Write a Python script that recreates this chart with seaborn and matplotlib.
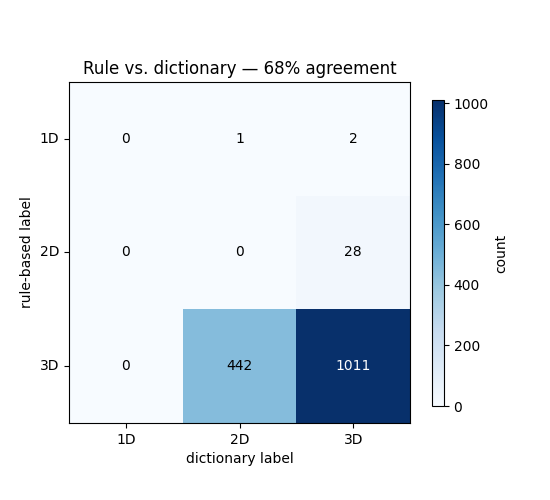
import numpy as np
import pandas as pd
import matplotlib
matplotlib.use("Agg")
import matplotlib.pyplot as plt
import seaborn as sns

# Data
labels = ['1D', '2D', '3D']
row_1d = [0, 1, 2]
row_2d = [0, 0, 28]
row_3d = [0, 442, 1011]

counts = pd.DataFrame([row_1d, row_2d, row_3d], index=labels, columns=labels)
agreement = 68

fig = plt.figure(figsize=(5.5, 5), dpi=100)
ax = fig.add_axes([0.1255, 0.154, 0.62, 0.682])
cax = fig.add_axes([0.785, 0.188, 0.022, 0.612])

sns.heatmap(counts, ax=ax, cbar_ax=cax, cmap='Blues', vmin=0, vmax=counts.values.max(),
            annot=True, fmt='d', annot_kws={'fontsize': 10}, square=False)

# plain black / white annotation text
for t in ax.texts:
    if t.get_color() != 'w':
        t.set_color('black')

for s in ax.spines.values():
    s.set_visible(True)
    s.set_color('black')
    s.set_linewidth(0.8)
ax.tick_params(length=3.5, width=0.8)
ax.set_yticklabels(labels, rotation=0)
ax.set_xticklabels(labels, rotation=0)
ax.set_title(f'Rule vs. dictionary \u2014 {agreement}% agreement', fontsize=12)
ax.set_xlabel('dictionary label')
ax.set_ylabel('rule-based label')

cb = ax.collections[0].colorbar
cb.set_label('count')
cb.outline.set_visible(True)
cb.outline.set_linewidth(0.8)
cb.set_ticks([0, 200, 400, 600, 800, 1000])

fig.savefig('out.png', dpi=100)
